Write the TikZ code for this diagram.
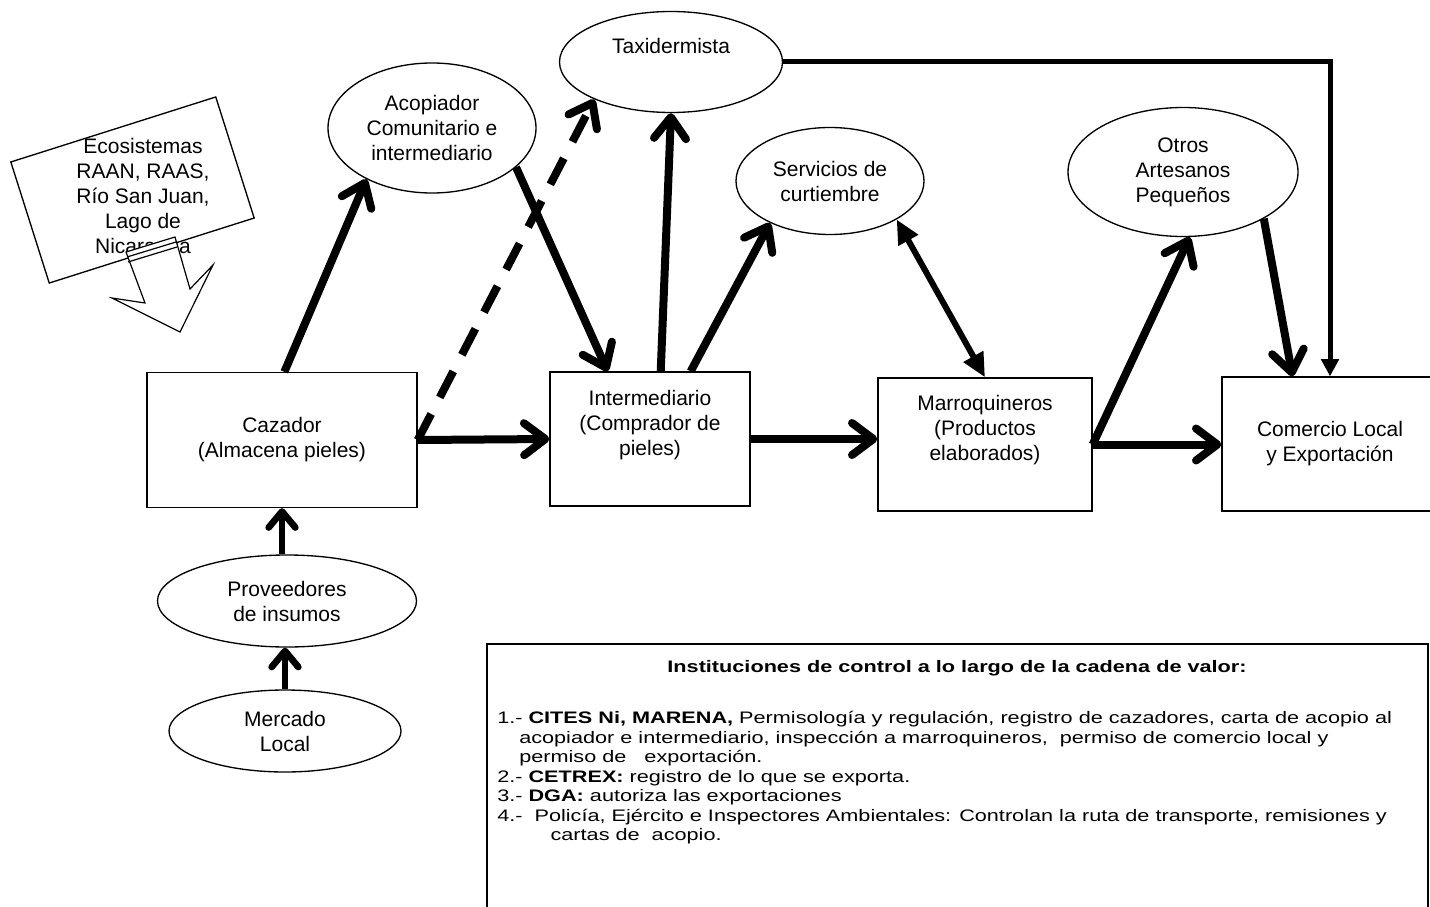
\documentclass[tikz,border=0pt]{standalone}
\usepackage{fontspec}
\setmainfont{Liberation Sans}
\newfontfamily\ancho{Liberation Sans}[FakeStretch=1.3]
\usetikzlibrary{arrows.meta,shapes.geometric}

\begin{document}
\begin{tikzpicture}[x=0.75pt,y=-0.75pt,
  every node/.style={font=\fontsize{15.75}{18.75}\selectfont,align=center},
  caja/.style={shape=rectangle,draw,line width=1pt,inner sep=0pt},
  elipse/.style={shape=ellipse,draw,line width=1pt,inner sep=0pt},
  flujo/.style={line width=6pt,arrows={-Straight Barb[length=16pt,width=24pt,round]}},
  flujofino/.style={line width=5pt,arrows={-Straight Barb[length=12pt,width=20pt,round]}},
  punteado/.style={flujo,dash pattern=on 22pt off 14pt},
  lleno/.style={line width=3.75pt,arrows={-Triangle[length=13pt,width=13pt]}},
  doble/.style={line width=4.5pt,arrows={Triangle[length=18pt,width=16pt]-Triangle[length=18pt,width=16pt]}}]
\useasboundingbox (0,0) rectangle (1430,906);

\node (eco) at (132.5,190) [caja,rotate=17.6,minimum width=161.25pt,minimum height=95.25pt] {};
\node (ecotxt) at (143,198) {Ecosistemas\\RAAN, RAAS,\\Río San Juan,\\Lago de\\Nicaragua};
\draw [fill=white,line width=0.9pt] (126,252) -- (145,303) -- (112,298) -- (180,332) -- (213,265) -- (190,289) -- (175,237) -- cycle;
\draw [line width=0.9pt] (127,257) -- (176,242);
\draw [line width=0.9pt] (128,262) -- (177,247);

\node (taxi) at (671,62) [elipse,minimum width=167.25pt,minimum height=75.75pt] {Taxidermista\\\strut};
\node (acop) at (432,128) [elipse,minimum width=156pt,minimum height=97.5pt] {Acopiador\\Comunitario e\\intermediario};
\node (serv) at (830,181) [elipse,minimum width=141pt,minimum height=80.25pt] {Servicios de\\curtiembre};
\node (otros) at (1183,172) [elipse,minimum width=172.5pt,minimum height=96.75pt] {Otros\\Artesanos\\Pequeños};
\node (prov) at (287,601) [elipse,minimum width=194.25pt,minimum height=69pt] {Proveedores\\de insumos};
\node (merc) at (285,731) [elipse,minimum width=174pt,minimum height=61.5pt] {Mercado\\Local};

\node (caz) at (282,440) [caja,minimum width=202.5pt,minimum height=101.25pt] {Cazador\\(Almacena pieles)};
\node (inter) at (650,439) [caja,minimum width=150pt,minimum height=100.5pt] {Intermediario\\(Comprador de\\pieles)\\\strut};
\node (marr) at (985,444.5) [caja,minimum width=160.5pt,minimum height=99.75pt] {Marroquineros\\(Productos\\elaborados)\\\strut};
\node (com) at (1330,444) [caja,minimum width=162pt,minimum height=100.5pt] {Comercio Local\\y Exportación};

\node (ctrl) at (957.5,778) [caja,line width=1.3pt,minimum width=705.75pt,minimum height=201pt] {};
\node (titulo) at (957,668) [font=\ancho\fontsize{12.5}{14.6}\selectfont\bfseries] {Instituciones de control a lo largo de la cadena de valor:};
\node (lista) at (497,711) [anchor=north west,align=left,inner sep=0pt,font=\ancho\fontsize{12.5}{14.65}\selectfont] {1.- \textbf{CITES Ni, MARENA,} Permisología y regulación, registro de cazadores, carta de acopio al\\
\hspace*{16.5pt}acopiador e intermediario, inspección a marroquineros, \ permiso de comercio local y\\
\hspace*{16.5pt}permiso de \ \ exportación.\\
2.- \textbf{CETREX:} registro de lo que se exporta.\\
3.- \textbf{DGA:} autoriza las exportaciones\\
4.- \ Policía, Ejército e Inspectores Ambientales: Controlan la ruta de transporte, remisiones y\\
\hspace*{40pt}cartas de \ acopio.};

\draw [flujo] (caz.88) -- (acop.218);
\draw [punteado] (caz.east) -- (taxi.206);
\draw [flujo] (caz.east) -- (inter.west);
\draw [flujo] (acop.335) -- (inter.122);
\draw [flujo] (inter.81) -- (taxi.south);
\draw [flujo] (inter.59) -- (serv.215);
\draw [doble] (serv.330) -- (marr.north);
\draw [flujo] (inter.east) -- (inter.east -| marr.west);
\draw [flujo] (marr.east) -- (otros.276);
\draw [flujo] (marr.east) -- (marr.east -| com.west);
\draw [flujo] (otros.330) -- (com.119.6);
\draw [lleno] (taxi.east) -| (com.north);
\draw [flujofino] (caz.south |- prov.north) -- (caz.south);
\draw [flujofino] (merc.north) -- (merc.north |- prov.south);
\end{tikzpicture}
\end{document}
